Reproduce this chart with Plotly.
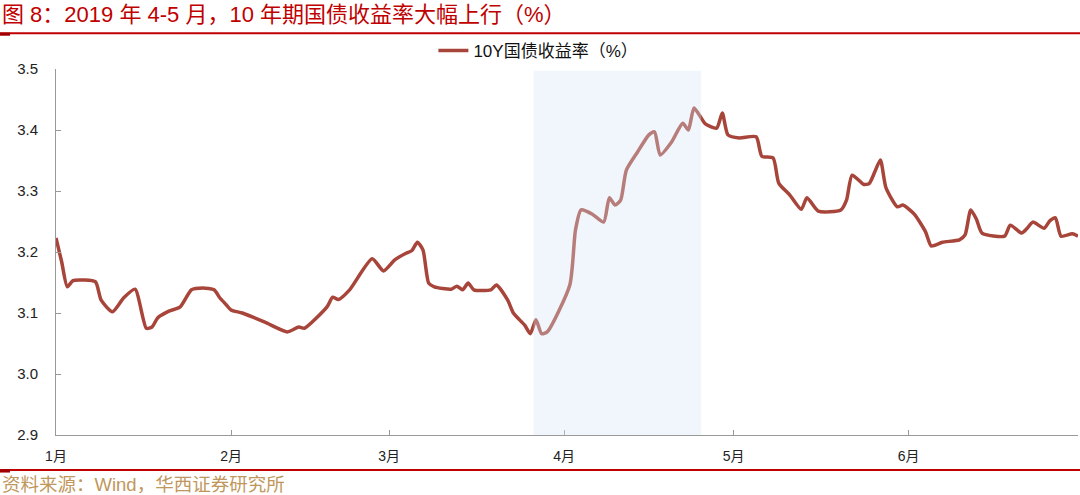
import plotly.graph_objects as go

dates = [
    "2019-01-01", "2019-01-02", "2019-01-03", "2019-01-04", "2019-01-06", "2019-01-08",
    "2019-01-09", "2019-01-11", "2019-01-13", "2019-01-15", "2019-01-17", "2019-01-18",
    "2019-01-19", "2019-01-21", "2019-01-23", "2019-01-25", "2019-01-27", "2019-01-29",
    "2019-01-30", "2019-01-31", "2019-02-01", "2019-02-03", "2019-02-07", "2019-02-11",
    "2019-02-13", "2019-02-14", "2019-02-18", "2019-02-19", "2019-02-20", "2019-02-22",
    "2019-02-26", "2019-02-28", "2019-03-02", "2019-03-04", "2019-03-05", "2019-03-06",
    "2019-03-07", "2019-03-08", "2019-03-09", "2019-03-12", "2019-03-13", "2019-03-14",
    "2019-03-15", "2019-03-16", "2019-03-19", "2019-03-20", "2019-03-22", "2019-03-23",
    "2019-03-25", "2019-03-26", "2019-03-27", "2019-03-28", "2019-03-29", "2019-04-02",
    "2019-04-03", "2019-04-04", "2019-04-06", "2019-04-08", "2019-04-09", "2019-04-10",
    "2019-04-11", "2019-04-12", "2019-04-14", "2019-04-16", "2019-04-17", "2019-04-18",
    "2019-04-20", "2019-04-22", "2019-04-23", "2019-04-24", "2019-04-26", "2019-04-28",
    "2019-04-29", "2019-04-30", "2019-05-02", "2019-05-05", "2019-05-06", "2019-05-08",
    "2019-05-09", "2019-05-11", "2019-05-13", "2019-05-14", "2019-05-16", "2019-05-20",
    "2019-05-21", "2019-05-22", "2019-05-24", "2019-05-25", "2019-05-26", "2019-05-27",
    "2019-05-28", "2019-05-30", "2019-05-31", "2019-06-02", "2019-06-04", "2019-06-05",
    "2019-06-07", "2019-06-10", "2019-06-11", "2019-06-12", "2019-06-13", "2019-06-14",
    "2019-06-18", "2019-06-19", "2019-06-21", "2019-06-22", "2019-06-23", "2019-06-25",
    "2019-06-26", "2019-06-27", "2019-06-28", "2019-06-30", "2019-07-01",
]

yield_10y = [
    3.223, 3.184, 3.143, 3.153, 3.154, 3.151,
    3.121, 3.102, 3.125, 3.139, 3.075, 3.077,
    3.092, 3.103, 3.110, 3.138, 3.141, 3.138,
    3.125, 3.115, 3.105, 3.100, 3.085, 3.069,
    3.077, 3.075, 3.110, 3.126, 3.122, 3.138,
    3.189, 3.169, 3.187, 3.198, 3.202, 3.216,
    3.203, 3.149, 3.143, 3.139, 3.144, 3.138,
    3.149, 3.138, 3.138, 3.146, 3.121, 3.100,
    3.080, 3.066, 3.089, 3.066, 3.069, 3.146,
    3.236, 3.269, 3.262, 3.249, 3.289, 3.277,
    3.285, 3.334, 3.364, 3.392, 3.397, 3.359,
    3.380, 3.411, 3.400, 3.436, 3.410, 3.403,
    3.428, 3.392, 3.387, 3.389, 3.357, 3.354,
    3.313, 3.293, 3.270, 3.289, 3.267, 3.269,
    3.285, 3.326, 3.311, 3.312, 3.331, 3.351,
    3.305, 3.274, 3.277, 3.262, 3.233, 3.210,
    3.216, 3.220, 3.228, 3.269, 3.254, 3.231,
    3.226, 3.244, 3.231, 3.239, 3.249, 3.239,
    3.251, 3.256, 3.226, 3.230, 3.226,
]

month_ticks = ["2019-01-01", "2019-02-01", "2019-03-01", "2019-04-01", "2019-05-01", "2019-06-01"]
month_labels = ["1月", "2月", "3月", "4月", "5月", "6月"]
y_ticks = [2.9, 3.0, 3.1, 3.2, 3.3, 3.4, 3.5]
y_labels = ["2.9", "3.0", "3.1", "3.2", "3.3", "3.4", "3.5"]

shade_start = "2019-03-26 14:00"
shade_end = "2019-04-25 06:00"

FONT = "Liberation Sans, Arial, Noto Sans CJK SC, sans-serif"

fig = go.Figure()
fig.add_trace(go.Scatter(
    x=dates, y=yield_10y, mode="lines", name="10Y国债收益率（%）",
    line=dict(color="#a8453a", width=3.5, shape="spline", smoothing=0.6),
))

fig.update_layout(
    width=1080, height=495,
    margin=dict(l=56, r=2, t=69, b=60),
    paper_bgcolor="white", plot_bgcolor="white",
    font=dict(family=FONT, size=14, color="#222"),
    showlegend=True,
    legend=dict(orientation="h", x=0.472, xanchor="center", y=1.0, yanchor="bottom",
                font=dict(size=17, color="#111"), bgcolor="rgba(0,0,0,0)"),
    xaxis=dict(
        range=["2019-01-01", "2019-07-01"], tickvals=month_ticks, ticktext=month_labels,
        showgrid=False, zeroline=False, showline=True, linecolor="#999", linewidth=1,
        ticks="inside", ticklen=5, tickcolor="#999", tickfont=dict(size=14, color="#222"),
        ticklabelstandoff=8, automargin=False,
    ),
    yaxis=dict(
        range=[2.9, 3.5], tickvals=y_ticks, ticktext=y_labels,
        showgrid=False, zeroline=False, showline=True, linecolor="#999", linewidth=1,
        ticks="inside", ticklen=5, tickcolor="#999", tickfont=dict(size=15, color="#222"),
        ticklabelstandoff=14, automargin=False,
    ),
    shapes=[
        dict(type="rect", xref="x", yref="y", x0=shade_start, x1=shade_end, y0=2.9, y1=3.497,
             fillcolor="rgb(212,229,243)", opacity=0.35, line=dict(width=0), layer="above"),
        dict(type="line", xref="paper", yref="paper", x0=-0.06, x1=1.01, y0=1.098, y1=1.098,
             line=dict(color="#c00000", width=2)),
        dict(type="line", xref="paper", yref="paper", x0=-0.06, x1=1.01, y0=-0.0956, y1=-0.0956,
             line=dict(color="#c00000", width=2)),
        dict(type="line", xref="paper", yref="paper", x0=-0.06, x1=-0.045, y0=1.095, y1=1.095,
             line=dict(color="#a00000", width=3)),
        dict(type="line", xref="paper", yref="paper", x0=-0.06, x1=-0.045, y0=-0.0985, y1=-0.0985,
             line=dict(color="#a00000", width=3)),
    ],
    annotations=[
        dict(text="图 8：2019 年 4-5 月，10 年期国债收益率大幅上行（%）", xref="paper", yref="paper",
             x=-0.0548, y=1.15, xanchor="left", yanchor="middle", showarrow=False,
             font=dict(size=22, color="#c00000", family=FONT)),
        dict(text="资料来源：Wind，华西证券研究所", xref="paper", yref="paper",
             x=-0.0548, y=-0.135, xanchor="left", yanchor="middle", showarrow=False,
             font=dict(size=18.5, color="#bf975c", family=FONT)),
    ],
)

fig.write_html("out.html", config={"displayModeBar": False},
               post_script="document.body.style.margin='0';")
